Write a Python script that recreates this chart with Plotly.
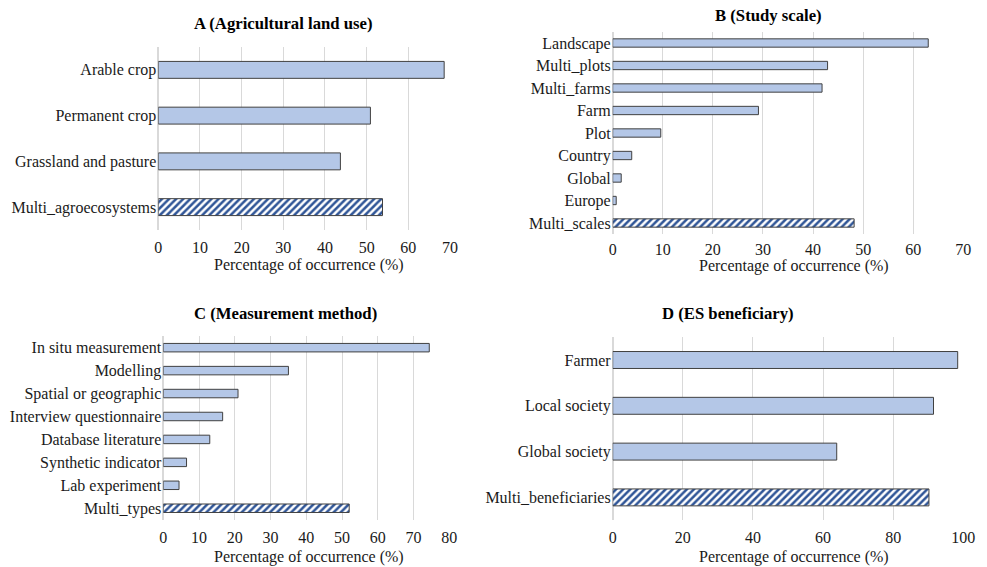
import plotly.graph_objects as go

# Panel A
a_cats = ["Arable crop", "Permanent crop", "Grassland and pasture", "Multi_agroecosystems"]
a_vals = [68.6, 50.9, 43.7, 53.8]
# Panel B
b_cats = ["Landscape", "Multi_plots", "Multi_farms", "Farm", "Plot", "Country", "Global", "Europe", "Multi_scales"]
b_vals = [63.0, 42.9, 41.8, 29.1, 9.6, 3.8, 1.7, 0.7, 48.2]
# Panel C
c_cats = ["In situ measurement", "Modelling", "Spatial or geographic", "Interview questionnaire",
          "Database literature", "Synthetic indicator", "Lab experiment", "Multi_types"]
c_vals = [74.4, 35.0, 20.9, 16.6, 13.0, 6.5, 4.4, 52.0]
# Panel D
d_cats = ["Farmer", "Local society", "Global society", "Multi_beneficiaries"]
d_vals = [98.4, 91.5, 63.9, 90.2]

titles = ["A (Agricultural land use)", "B (Study scale)", "C (Measurement method)", "D (ES beneficiary)"]
x_title = "Percentage of occurrence (%)"
x_ranges = [[0, 70], [0, 70], [0, 80], [0, 100]]
x_dticks = [10, 10, 10, 20]

FONT = "Liberation Serif, Times New Roman, serif"
FILL = "#B4C7E7"
EDGE = "#404040"
HATCH = "#2F5597"
GRID = "#D9D9D9"
TXT = "#1a1a1a"

# body margin is removed by the post script, so the figure fills the window
W, H = 987, 567


def fx(px):
    return px / W


def fy(py):
    return 1 - py / H


panels = [(a_cats, a_vals), (b_cats, b_vals), (c_cats, c_vals), (d_cats, d_vals)]
# plot-area boxes in reference pixels: (left, right, top, bottom)
boxes = [(158.3, 450.0, 47.0, 230.0),
         (612.7, 963.3, 31.75, 234.25),
         (163.3, 449.3, 336.2, 519.7),
         (612.7, 963.3, 337.1, 520.3)]
standoffs = [6, 4, 6, 6]

fig = go.Figure()
for i, (cats, vals) in enumerate(panels):
    xa = f"x{i+1 if i else ''}"
    ya = f"y{i+1 if i else ''}"
    fig.add_trace(go.Bar(
        x=vals[:-1], y=cats[:-1], orientation="h", xaxis=xa, yaxis=ya, width=0.37,
        marker=dict(color=FILL, line=dict(color=EDGE, width=1)),
        showlegend=False, hoverinfo="x+y",
    ))
    fig.add_trace(go.Bar(
        x=vals[-1:], y=cats[-1:], orientation="h", xaxis=xa, yaxis=ya, width=0.37,
        marker=dict(color="white", line=dict(color=EDGE, width=1),
                    pattern=dict(shape="/", fgcolor=HATCH, bgcolor="white", fgopacity=1,
                                 size=5, solidity=0.5, fillmode="overlay")),
        showlegend=False, hoverinfo="x+y",
    ))

layout = dict(
    width=W, height=H,
    margin=dict(l=0, r=0, t=0, b=0, autoexpand=False),
    paper_bgcolor="white", plot_bgcolor="white",
    font=dict(family=FONT, size=16, color=TXT),
    showlegend=False, barmode="overlay",
)
for i in range(4):
    sfx = str(i + 1) if i else ""
    l, r, t, b = boxes[i]
    layout[f"xaxis{sfx}"] = dict(
        domain=[fx(l), fx(r)], range=x_ranges[i], dtick=x_dticks[i], tick0=0,
        showgrid=True, gridcolor=GRID, gridwidth=1, zeroline=True, zerolinecolor=GRID,
        showline=False, ticks="", ticklabelstandoff=standoffs[i], automargin=False,
        anchor=f"y{sfx}", tickfont=dict(family=FONT, size=16, color=TXT),
        fixedrange=True,
    )
    layout[f"yaxis{sfx}"] = dict(
        domain=[fy(b), fy(t)], autorange="reversed", type="category",
        categoryorder="array", categoryarray=panels[i][0],
        showgrid=False, zeroline=False, showline=False, ticks="",
        ticklabelstandoff=1, anchor=f"x{sfx}", automargin=False,
        tickfont=dict(family=FONT, size=16, color=TXT),
        fixedrange=True,
    )
fig.update_layout(**layout)

title_pos = [(282.5, 23), (768, 15), (285, 313), (728, 313)]
xt_pos = [(309, 265), (794, 266), (309, 557), (794, 557)]
for i in range(4):
    tx, ty = title_pos[i]
    fig.add_annotation(x=fx(tx), y=fy(ty), xref="paper", yref="paper",
                       text=f"<b>{titles[i]}</b>", showarrow=False,
                       xanchor="center", yanchor="middle",
                       font=dict(family=FONT, size=16.7, color="black"))
    ax, ay = xt_pos[i]
    fig.add_annotation(x=fx(ax), y=fy(ay), xref="paper", yref="paper",
                       text=x_title, showarrow=False,
                       xanchor="center", yanchor="middle",
                       font=dict(family=FONT, size=16, color=TXT))

fig.write_html("out.html",
               config={"displayModeBar": False},
               post_script="document.body.style.margin='0';document.body.style.overflow='hidden';")
